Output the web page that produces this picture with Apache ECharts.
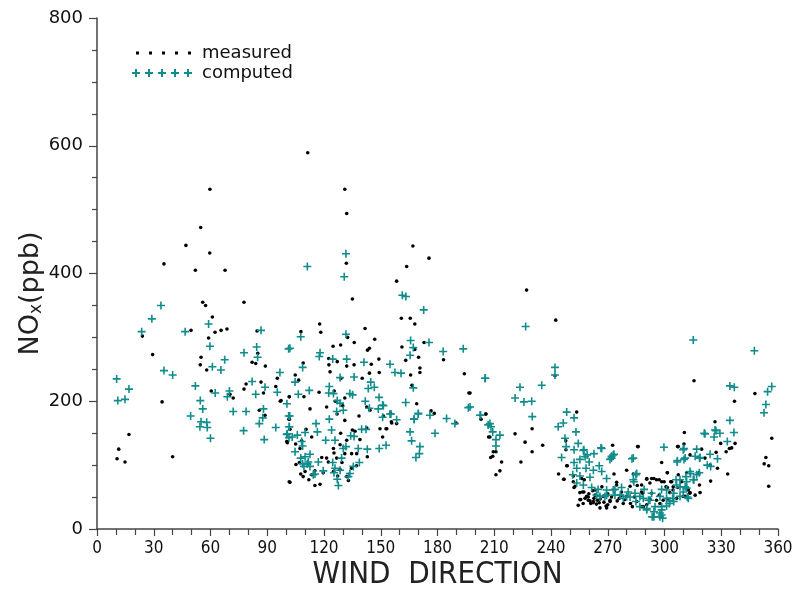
<!DOCTYPE html>
<html><head><meta charset="utf-8">
<script src="https://cdn.jsdelivr.net/npm/echarts@6/dist/echarts.min.js"></script>
<style>html,body{margin:0;padding:0;background:#fff}#c{width:802px;height:595px}</style>
</head><body><div id="c"></div>
<script>
// x tick labels (wind direction, degrees) and y tick labels (ppb)
const xTicks = [0,30,60,90,120,150,180,210,240,270,300,330,360];
const yTicks = [0,200,400,600,800];
const seriesNames = ['measured','computed'];

// measured NOx [wind direction, ppb]
const measured = [
[10.6,110],[11.5,125],[14.8,105],[16.9,148],[24,302],[29.4,273],[34.4,199],[35.4,415],[40,113],[47,444],[49.7,311],[52,405],[54.8,472],[55,269],[54.6,257],[55.9,355],[57.4,350],[58,249],[59,299],[59.6,432],[59.7,532],[60.4,216],[61,332],[62.4,308],[65.6,311],[67.7,405],[68.7,313],[70.3,211],[72,205],[77.7,355],[77.7,219],[78.8,227],[82,261],[83.9,259],[84.6,310],[85,275],[89,255],[86.7,230],[88,213],[85.8,186],[88.8,178],[94.5,223],[95.3,236],[96.9,200],[101.6,207],[101.5,172],[100.6,137],[100.6,135],[101.6,74],
[111.4,589],[131,532],[132,494],[131.8,416],[135,360],[117.7,321],[118.3,308],[107.8,309],[132.5,300],[136,292],[141.7,314],[146.8,297],[124.8,286],[128.8,288],[144,283],[167,443],[175.5,424],[163.7,411],[158.4,388],[160.9,330],[165.6,330],[168,321],[172.9,292],[161.2,285],[168,281],
[143,280],[122.5,267],[127,262],[122.6,257],[109,260],[132,255],[135.9,257],[145,258],[149,266],[123.2,246],[104.8,241],[106.6,233],[144,244],[149.2,245],[140.2,236],[129,236],[163.2,264],[170,269],[170.7,252],[170.7,245],[165.8,241],[166.5,225],[183.2,265],[194.2,243],[196.6,213],[169,196],[176.6,185],[178.3,181],[189.8,166],[155.6,168],[158.4,165],
[101.7,207],[109.4,207],[112.6,188],[121.4,191],[125.4,216],[126,200],[131,205],[129.9,193],[126.9,180],[117.4,214],[138.5,177],[142.6,191],[144.3,186],[97.3,201],[101.7,172],[102,156],[100.3,137],[105,133],[107.3,126],[110.5,156],[113.5,144],[108.2,138],[131,170],[135,155],[136.4,153],[142.6,158],[149.6,157],[152.8,157],[151,144],[139,140],[128.8,150],[132,139],[128.5,132],[125,126],[125.3,119],[131,118],[134.6,118],[137.3,118],[142.9,113],[121.4,111],[118.8,112],[122.3,105],[126.7,111],[105.2,101],[107,104],[107.7,86],[110,90],[113.5,85],[115.2,91],[119.6,88],[125,90],[128.5,93],[132,82],[132.9,76],[112,77],[115.2,68],[117.9,70],[102,73],[137.2,99],[129.5,104],[134.6,95],[127.2,83],[109,82],
[151.4,177],[155.2,181],[155.8,166],[153.2,157],[203,172],[205.5,180],[207,144],
[227.1,374],[242.5,327],[197.2,213],[242.1,240],[205.6,180],[207.7,144],[209.5,121],[210.9,121],[208.1,112],[209.2,114],[213.9,105],[213,91],[210.9,85],[221,149],[226.3,136],[230,157],[230,121],[224.1,105],[235.6,131],[247.8,138],[247.9,124],[244,86],[246.7,78],[253.6,183],[248.6,99],[251.8,83],[252.7,67],[254.4,37],[255.3,46],[256.7,58],[257.6,77],[259.7,50],[260.6,44],[262.7,48],[262.3,41],[265.5,41],[265.9,33],[263.3,61],[267.6,51],[269.4,33],[272.6,131],[273.3,86],[271.2,45],[273.8,34],[274.7,73],[278.2,40],[280,51],[276.1,48],
[286.1,129],[298.5,104],[301.5,88],[246.9,78],[248.3,99],[252.2,65],[255.7,46],[259.7,45],[262.4,43],[264.5,45],[269.1,36],[271.2,43],[261,40],[280,92],[290.6,78],[293.2,79],[295.8,77],[298.5,74],[292.3,72],[300.8,66],[285.6,68],[287.9,58],[292.3,47],[295.8,45],[301.5,47],[288.8,35],[290.6,38],[277.3,58],[281.8,67],[251.8,74],[256.2,79],[257.4,58],[258.8,51],[263.3,53],[266.9,66],[255.3,57],
[257,40],[260,55],[262,60],[266,47],[268,42],[270,55],[272,50],[275,44],[277,52],[279,46],[282,40],[284,50],[258,48],[264,39],[270,38],
[337,200],[326.7,168],[310.5,151],[329.7,134],[337.3,134],[334.3,126],[335.5,127],[310.3,133],[307.3,129],[313.5,116],[319.6,125],[327.3,120],[332.6,121],[321.4,111],[324.1,100],[328,95],[333.4,86],[324.4,75],[318.2,88],[311.7,88],[307.3,85],[301.5,88],[303.8,74],[309,74],[318.5,69],[306.8,65],[312.6,61],[316.2,53],[318.8,57],[313.5,57],[302.8,57],[306.4,48],[299.3,45],[353.6,112],[352.7,102],[355.1,99],[355.1,67],
[315.6,232],[347.8,212],[356.7,142],[285.8,129],[306.9,129],[283.5,86],[290.6,79],[294.4,79],[297.2,77],[299.8,74],[303.3,74],[301.5,65],[304.6,66],[287.9,69],[274.7,69],[288.4,56],[293.2,56],[297.2,53],[285.3,43],[283,35],[288,35],[297.6,40],[304.5,61],[310.9,51],[313.4,56],[309.9,51]
];

// computed NOx [wind direction, ppb]
const computed = [
[10.4,235],[11,201],[14.8,203],[16.9,219],[23.6,309],[29,329],[33.8,350],[35.4,248],[40,241],[46.6,309],[52,224],[54.6,201],[55.9,188],[49.5,177],[55,168],[54.4,160],[58,167],[58.3,159],[60,142],[59.7,286],[59,321],[61,254],[62.5,213],[65.5,249],[67.5,265],[68.9,207],[70,216],[72,184],[77.7,276],[77.5,154],[78.8,184],[82,231],[83.9,211],[84.4,285],[84.9,269],[86.7,311],[85.8,165],[87.6,174],[88,188],[88.4,140],[88.8,222],[94.5,159],[95.3,214],[96.7,245],[100.4,196],[101.3,282],[101.3,177],[101.6,160],[100.6,149],[101.5,143],
[111.2,411],[131.6,431],[130.7,395],[107.7,301],[131.6,305],[102,283],[161.4,366],[163.3,364],[172.7,343],[165.8,295],[175.5,292],[193.6,282],[167.2,284],
[117.9,276],[117.5,270],[108.7,253],[124.6,266],[132,266],[141.1,261],[154.9,258],[157.5,245],[160.7,244],[165.5,272],[183,278],[104.7,230],[106.4,211],[112.2,217],[122.5,213],[122.8,223],[128.5,237],[125,212],[133.7,212],[135.1,210],[127,201],[128.5,197],[130.2,186],[126.7,184],[135.9,238],[144.7,230],[146.6,222],[143.4,220],[141.8,200],[144,189],[149.1,206],[148.7,188],[151.4,193],[151,175],[154.9,180],[158.4,171],[163.2,198],[167.6,172],[169.9,181],[176,178],[184.8,173],[189.2,165],[196.3,190],[165.5,152],[166.3,138],[170.7,129],[170.4,118],[168.6,112],[178.7,150],
[101.9,177],[101.7,160],[100.3,148],[103.2,144],[105.9,147],[108.2,137],[110,151],[108.7,130],[104.7,121],[107.7,111],[110,113],[112.6,117],[108.7,102],[111.2,102],[112.6,98],[115.2,86],[115.8,165],[116.5,152],[120.9,139],[124,155],[125.8,139],[122.8,172],[130.2,126],[131.6,129],[129.3,111],[138.1,126],[142.9,125],[134.1,146],[135.9,145],[139.9,156],[142.2,156],[149.2,126],[152.8,131],[117,105],[114.3,85],[119.6,91],[124.6,104],[125.8,95],[125.3,88],[128.5,92],[127,78],[127.6,68],[133.7,87],[135.5,98],[138.7,104],[132.9,82],[109.4,98],[111.7,105],
[167.2,221],[205.3,236],[151,194],[155.4,180],[169.8,180],[167.7,172],[202.5,178],[206.8,163],
[226.6,317],[205.1,236],[223.6,222],[235.1,225],[221,205],[225.7,199],[229.8,200],[230.1,176],[242.1,253],[242.1,241],[197.2,191],[202.8,178],[207.7,165],[208.3,160],[209.2,152],[213,147],[210.9,140],[210.9,130],[248.3,183],[252.2,174],[246.5,166],[243.8,160],[253.2,152],[247.4,142],[254.4,134],[252.2,124],[257.4,124],[245.6,112],[259.1,116],[262.7,118],[266.4,127],[272,114],[273.3,117],
[248,129],[257.1,123],[258,113],[271.2,109],[282.8,110],[299.7,128],[252.2,104],[255.3,109],[260.2,105],[265.5,99],[253.6,95],[258.5,95],[262.4,92],[266.8,90],[251.5,85],[255.3,83],[260.6,81],[269.4,79],[284.9,85],[283.8,74],[253.6,72],[257.1,69],[261.5,65],[264.9,62],[269.4,61],[273.8,62],[277.3,65],[280.8,58],[264.1,53],[268.5,51],[273.8,53],[278.2,48],[281.8,50],[284.9,43],[287,35],[290.6,30],[287,51],[291.5,45],[295,35],[297.6,25],[294.4,19],[299,17],[293.2,56],[297.6,51],[301.1,61],[302.5,40],[289.2,62],
[353.6,195],[352.6,182],[334.6,170],[327.2,154],[329.3,150],[336.7,151],[321.4,149],[326.2,144],[333.2,137],[310.3,126],[317,125],[316.2,114],[318.8,112],[324.1,117],[328,110],[310.3,109],[306.7,105],[322.6,100],[324.4,98],[318.4,88],[313.8,87],[311.3,82],[306.1,77],[308.2,66],[311.7,64],[315.2,77],[309.9,58],[304.9,56],[301.1,48],[302.8,44],[298.5,35],[301.1,36],[298.5,22],[298.5,62],[304.9,43],[312.6,48],[317,85],[311.7,74],
[315.2,296],[347.5,279],[334.6,224],[336.9,222],[356.7,223],[354.5,215],[321,150],[326.7,155],[309.9,124],[306.8,107],[310.9,111],[283.5,111],[272,111],[272.9,116],[266.8,126],[318.5,111],[313.5,90],[315.6,77],[308.2,77],[306.4,69],[310.9,66],[312.1,50],[308.2,51],[304.3,48],[285.3,87],[283.5,77],[284.4,56],[288.8,48],[292.3,45],[290.6,32],[294.4,27],[293.5,19],[297.6,19],[298.5,30],[280,51],[276.6,53],[272.9,61],[269.4,53],[265.9,51]
];

const PLUS = 'path://M4,0H6V4H10V6H6V10H4V6H0V4H4Z';
const DOTS_ICON = 'path://M0,0h3v3h-3zM13,0h3v3h-3zM26,0h3v3h-3zM39,0h3v3h-3zM52,0h3v3h-3z';
const PLUS_ICON = 'path://M3,0h2v3h3v2h-3v3h-2v-3h-3v-2h3zM16,0h2v3h3v2h-3v3h-2v-3h-3v-2h3zM29,0h2v3h3v2h-3v3h-2v-3h-3v-2h3zM42,0h2v3h3v2h-3v3h-2v-3h-3v-2h3zM55,0h2v3h3v2h-3v3h-2v-3h-3v-2h3z';
const TEAL = '#108c8c';

const chart = echarts.init(document.getElementById('c'), null, {renderer:'canvas'});
const axisLine = {show:true, lineStyle:{color:'#444', width:1.5}};
chart.setOption({
  animation:false,
  backgroundColor:'#fff',
  grid:{left:97, right:24, top:18, bottom:66, containLabel:false},
  legend:[
    {data:[{name:seriesNames[0], icon:DOTS_ICON}], left:136, top:44, padding:0, itemWidth:55, itemHeight:3,
     textStyle:{fontFamily:'DejaVu Sans', fontSize:18, color:'#111', padding:[0,0,0,6]}},
    {data:[{name:seriesNames[1], icon:PLUS_ICON}], left:132, top:64, padding:0, itemWidth:60, itemHeight:8,
     textStyle:{fontFamily:'DejaVu Sans', fontSize:18, color:'#111', padding:[0,0,0,5]}}
  ],
  xAxis:{
    type:'value', min:xTicks[0], max:xTicks[xTicks.length-1], interval:30,
    name:'WIND  DIRECTION', nameLocation:'middle', nameGap:30, nameMoveOverlap:false,
    nameTextStyle:{fontFamily:'DejaVu Sans Condensed', fontSize:31, color:'#222'},
    axisLine:axisLine,
    axisTick:{show:true, length:7, lineStyle:{color:'#444', width:1.2}},
    minorTick:{show:true, splitNumber:3, length:6, lineStyle:{color:'#444', width:1.2}},
    axisLabel:{fontFamily:'DejaVu Sans Condensed', fontSize:17, color:'#111', margin:11},
    splitLine:{show:false}
  },
  yAxis:{
    type:'value', min:yTicks[0], max:yTicks[yTicks.length-1], interval:200,
    name:'NO{sub|x}(ppb)', nameLocation:'middle', nameGap:52, nameRotate:90, nameMoveOverlap:false,
    nameTextStyle:{fontFamily:'DejaVu Sans', fontSize:27, color:'#222', padding:[0,40,0,0],
      rich:{sub:{fontFamily:'DejaVu Sans', fontSize:17, color:'#222', padding:[12,0,0,0]}}},
    axisLine:axisLine,
    axisTick:{show:true, length:8, lineStyle:{color:'#444', width:1.2}},
    minorTick:{show:true, splitNumber:4, length:5, lineStyle:{color:'#444', width:1.2}},
    axisLabel:{fontFamily:'DejaVu Sans', fontSize:18, color:'#111', margin:14},
    splitLine:{show:false}
  },
  series:[
    {name:seriesNames[0], type:'scatter', data:measured, symbol:'circle', symbolSize:3.6,
     itemStyle:{color:'#000', opacity:1}, z:2},
    {name:seriesNames[1], type:'scatter', data:computed, symbol:PLUS, symbolSize:8,
     itemStyle:{color:TEAL, opacity:1}, z:3}
  ]
});
</script></body></html>
